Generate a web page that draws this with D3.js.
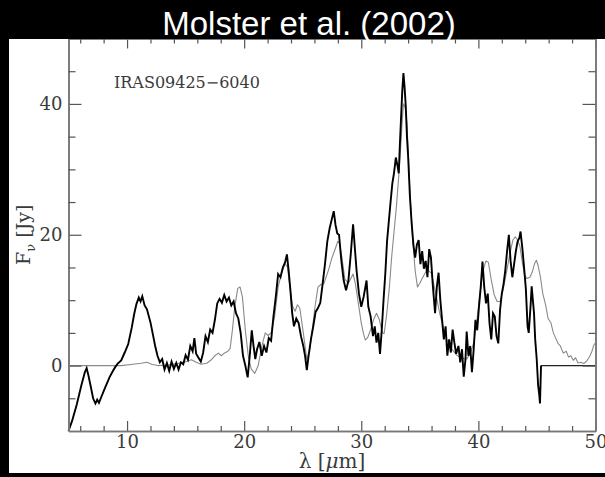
<!DOCTYPE html>
<html>
<head>
<meta charset="utf-8">
<script src="https://cdn.jsdelivr.net/npm/d3@7"></script>
<style>
  html, body { margin: 0; padding: 0; background: #000; }
  svg { display: block; }
  .tick line { stroke: #555; stroke-width: 1.2; }
  .axis .domain { stroke: #777; stroke-width: 1.6; }
  .axis text { font-family: "DejaVu Serif", serif; font-size: 18px; fill: #3a3a3a; }
  .obs { fill: none; stroke: #000; stroke-width: 1.9; stroke-linejoin: miter; }
  .model { fill: none; stroke: #8a8a8a; stroke-width: 1.1; stroke-linejoin: round; }
  .label { font-family: "DejaVu Serif", serif; fill: #3a3a3a; }
</style>
</head>
<body>
<div id="chart"></div>
<script>
// ISO spectrum of IRAS09425-6040: [lambda (um), F_nu (Jy)]
const observed = [
  [5.0,-10],[5.3,-8.5],[5.7,-6],[6.1,-3],[6.4,-1],[6.55,-0.4],[6.7,-1.5],[6.9,-3.2],[7.1,-5],
  [7.3,-5.8],[7.45,-5.2],[7.6,-5.7],[7.8,-4.8],[8.1,-3.5],[8.5,-1.8],[8.8,-0.8],[9.0,-0.2],
  [9.2,0.3],[9.5,0.8],[9.8,2],[10.1,3.3],[10.4,5.8],[10.6,7.8],[10.8,9.4],[11.0,10.4],
  [11.15,9.8],[11.3,10.6],[11.5,9.2],[11.7,8.6],[12.0,6.6],[12.2,4.8],[12.4,3],[12.6,1.5],
  [12.8,0.5],[13.0,1],[13.2,-0.6],[13.4,0.4],[13.6,-0.8],[13.8,0.6],[14.0,-0.5],[14.2,0.4],
  [14.4,-0.6],[14.6,0.5],[14.8,0.2],[15.0,1.6],[15.2,0.9],[15.4,3],[15.6,2.2],[15.75,4.2],
  [15.9,1.8],[16.1,1.2],[16.3,0.6],[16.5,2],[16.7,4.5],[16.9,3.6],[17.1,5.5],[17.3,5],
  [17.5,7],[17.7,9.5],[17.9,10.2],[18.1,9.6],[18.3,10.8],[18.5,9.8],[18.7,10.4],[18.9,9.2],
  [19.1,9.8],[19.3,8],[19.5,7.2],[19.7,5],[19.9,1.5],[20.1,0],[20.3,-1.8],[20.5,2],
  [20.65,5.4],[20.8,3],[20.95,1],[21.1,2.5],[21.3,3.6],[21.5,1.5],[21.7,3],[21.9,2],
  [22.1,4.2],[22.3,3.8],[22.5,7.5],[22.7,10.5],[22.9,14],[23.1,13.5],[23.3,15],[23.5,15.8],
  [23.65,17],[23.8,14.5],[23.95,11.5],[24.1,8],[24.25,6],[24.45,7.2],[24.65,6.5],[24.85,4.5],
  [25.05,3],[25.2,1.5],[25.35,-0.7],[25.5,1.5],[25.7,4],[25.9,6],[26.1,8.2],[26.3,8.8],
  [26.5,9.6],[26.7,12.5],[26.9,15.5],[27.1,19],[27.3,21],[27.5,22.5],[27.65,23.6],[27.8,21.5],
  [27.95,20.2],[28.1,20],[28.3,16],[28.5,13],[28.7,11.5],[28.9,13],[29.1,17],[29.3,21.6],
  [29.45,18],[29.6,14.5],[29.8,11],[30.0,9],[30.2,10.5],[30.45,13],[30.6,9],[30.8,7.5],
  [31.0,4.5],[31.15,6],[31.3,3.5],[31.45,5],[31.6,1.8],[31.75,5.5],[31.9,10],[32.05,14],
  [32.2,19],[32.35,22],[32.5,25],[32.65,27.8],[32.8,29.5],[32.95,31.8],[33.1,30.5],[33.2,29.4],
  [33.3,34],[33.4,38],[33.5,42],[33.6,44.7],[33.7,42.5],[33.8,39.6],[33.9,35],[34.0,32],
  [34.15,26],[34.3,21.8],[34.45,18.5],[34.6,16.5],[34.75,18.5],[34.9,19.2],[35.05,15.5],
  [35.2,17.5],[35.35,14.8],[35.5,16],[35.65,13.5],[35.8,17.8],[35.95,16.5],[36.1,12.5],
  [36.3,8],[36.45,12],[36.6,14.2],[36.75,10],[36.9,7],[37.05,4],[37.2,6],[37.35,1.5],
  [37.5,4],[37.65,2],[37.8,5.5],[37.95,3.5],[38.1,1.8],[38.3,3],[38.45,0.5],[38.6,2.5],
  [38.75,-1.7],[38.9,1],[39.0,5.2],[39.15,1.5],[39.3,3],[39.45,-1],[39.6,2.5],[39.75,7],
  [39.9,5.4],[40.05,9],[40.2,12],[40.35,15.9],[40.5,12],[40.65,9.5],[40.8,11],[40.95,6.5],
  [41.1,4],[41.25,8],[41.4,7.5],[41.55,4.5],[41.7,3.4],[41.85,8.5],[42.0,11],[42.15,12.5],
  [42.3,14.6],[42.45,17.5],[42.6,20],[42.75,16],[42.9,13.5],[43.05,15.5],[43.2,17.5],
  [43.35,19],[43.5,19.5],[43.6,20.5],[43.75,18],[43.9,15],[44.05,11.8],[44.2,6],[44.3,5],
  [44.45,9],[44.55,12.1],[44.65,10],[44.75,8],[44.85,4],[44.98,1],[45.1,-3],[45.2,-4.5],
  [45.26,-5.8],[45.35,0]
];
// flat zero continuation of the observed spectrum beyond its end
const observedTail = [[45.35,0],[50,0]];

// model fit (thin grey curve)
const model = [
  [5,0],[9.5,0],[10.5,0.2],[11.2,0.35],[11.7,0.5],[12.1,0.2],[12.6,0],[13.5,0.1],[14.3,0.3],
  [15.0,0.6],[15.5,0.9],[15.9,0.5],[16.3,0.2],[16.8,0.35],[17.2,0.9],[17.5,1.5],[17.8,1.9],
  [18.05,1.5],[18.3,1.9],[18.6,2.2],[18.8,2.6],[19.0,5.5],[19.2,9],[19.45,11.8],[19.65,12],
  [19.85,10.5],[20.1,5.4],[20.35,1.5],[20.6,-0.5],[20.9,-1.2],[21.2,0],[21.5,2.9],[21.8,5],
  [22.05,4.6],[22.3,5],[22.6,7.5],[22.9,12],[23.2,14.2],[23.5,15.6],[23.7,15],[23.9,12],
  [24.15,9],[24.35,8.3],[24.55,9.3],[24.75,8.8],[25.05,5],[25.35,0.9],[25.6,2.4],[25.85,6],
  [26.05,9],[26.3,12],[26.55,12.4],[26.8,12.5],[27.2,14.6],[27.5,16.5],[27.75,17.7],[28.0,19],
  [28.15,18.7],[28.35,16.5],[28.6,13.2],[28.9,12.6],[29.3,14],[29.5,12.5],[29.75,9.5],
  [30.0,6.5],[30.2,4.8],[30.35,3.9],[30.55,4.3],[30.8,5.5],[31.05,7],[31.3,8],[31.55,7],
  [31.8,5],[31.95,4.9],[32.15,7.5],[32.4,12],[32.6,16.7],[32.8,20.5],[33.0,24.3],[33.2,29],
  [33.35,33],[33.5,37.5],[33.6,40],[33.75,39.5],[33.9,37],[34.05,31],[34.2,25],[34.4,19],
  [34.6,14.5],[34.8,12],[35.0,12.6],[35.2,13.3],[35.5,14.3],[35.7,14.6],[36.0,14.1],
  [36.3,11.5],[36.7,8],[37.0,5.8],[37.3,4],[37.7,2.6],[38.15,1.6],[38.6,1.1],[39.0,1.0],
  [39.3,1.8],[39.6,3.5],[39.85,6.5],[40.1,10.5],[40.4,14.6],[40.65,16],[40.85,15.8],
  [41.1,13.1],[41.35,10.8],[41.6,9.8],[41.85,9.8],[42.1,11.5],[42.35,13.8],[42.7,17.2],
  [42.95,19.2],[43.15,19.7],[43.35,19.2],[43.55,18.2],[43.75,15.8],[43.95,13.8],[44.15,13.3],
  [44.4,13.5],[44.6,14.3],[44.8,15.6],[44.95,16.1],[45.1,15.3],[45.3,13.5],[45.5,11],
  [45.75,9.2],[45.95,7.2],[46.2,6.5],[46.4,5],[46.6,4.2],[46.8,3.4],[47.0,3],[47.25,1.9],
  [47.5,2.2],[47.7,1.3],[47.9,1.5],[48.1,0.8],[48.3,1.2],[48.5,0.4],[48.75,0.5],[49.0,0.3],
  [49.25,0.7],[49.5,1.4],[49.7,2.2],[49.85,3.1],[50,3.5]
];

const xMajor = [10, 20, 30, 40, 50];
const xMinor = [6, 8, 12, 14, 16, 18, 22, 24, 26, 28, 32, 34, 36, 38, 42, 44, 46, 48];
const yMajor = [0, 20, 40];
const yMinor = [-5, 5, 10, 15, 25, 30, 35, 45];

const W = 605, H = 477;
const margin = { top: 38.5, right: 9.5, bottom: 46, left: 68.5 };
const width = W - margin.left - margin.right;
const height = H - margin.top - margin.bottom;

const root = d3.select("#chart").append("svg")
    .attr("width", W)
    .attr("height", H);

// white paper behind the plot
root.append("rect")
    .attr("x", 9).attr("y", 39)
    .attr("width", W - 9).attr("height", 434)
    .attr("fill", "#fff");

const svg = root.append("g")
    .attr("transform", `translate(${margin.left},${margin.top})`);

const x = d3.scaleLinear().domain([5, 50]).range([0, width]);
const y = d3.scaleLinear().domain([-10, 50]).range([height, 0]);

const line = d3.line()
    .x(d => x(d[0]))
    .y(d => y(d[1]));

svg.append("path").datum(model).attr("class", "model").attr("d", line);
svg.append("path").datum(observed).attr("class", "obs").attr("d", line);
svg.append("path").datum(observedTail)
    .attr("fill", "none").attr("stroke", "#222").attr("stroke-width", 1.1)
    .attr("d", line);

// ---- axes, ticks pointing inwards on all four sides ----
const nofmt = () => "";

svg.append("g").attr("class", "axis")
    .attr("transform", `translate(0,${height})`)
    .call(d3.axisBottom(x).tickValues(xMajor).tickSize(-10).tickSizeOuter(0).tickPadding(4));
svg.append("g").attr("class", "axis")
    .attr("transform", `translate(0,${height})`)
    .call(d3.axisBottom(x).tickValues(xMinor).tickSize(-5).tickSizeOuter(0).tickFormat(nofmt));

svg.append("g").attr("class", "axis")
    .call(d3.axisTop(x).tickValues(xMajor).tickSize(-10).tickSizeOuter(0).tickFormat(nofmt));
svg.append("g").attr("class", "axis")
    .call(d3.axisTop(x).tickValues(xMinor).tickSize(-5).tickSizeOuter(0).tickFormat(nofmt));

svg.append("g").attr("class", "axis")
    .call(d3.axisLeft(y).tickValues(yMajor).tickSize(-13).tickSizeOuter(0).tickPadding(6));
svg.append("g").attr("class", "axis")
    .call(d3.axisLeft(y).tickValues(yMinor).tickSize(-7).tickSizeOuter(0).tickFormat(nofmt));

svg.append("g").attr("class", "axis")
    .attr("transform", `translate(${width},0)`)
    .call(d3.axisRight(y).tickValues(yMajor).tickSize(-13).tickSizeOuter(0).tickFormat(nofmt));
svg.append("g").attr("class", "axis")
    .attr("transform", `translate(${width},0)`)
    .call(d3.axisRight(y).tickValues(yMinor).tickSize(-7).tickSizeOuter(0).tickFormat(nofmt));

// axis titles
const xt = svg.append("text")
    .attr("class", "label")
    .attr("x", width / 2)
    .attr("y", height + 37)
    .attr("text-anchor", "middle")
    .style("font-size", "20px");
xt.append("tspan").text("λ [");
xt.append("tspan").style("font-style", "italic").text("μ");
xt.append("tspan").text("m]");

const yt = svg.append("text")
    .attr("class", "label")
    .attr("transform", `translate(${30 - margin.left},${height / 2}) rotate(-90)`)
    .attr("text-anchor", "middle")
    .style("font-size", "19px");
yt.append("tspan").text("F");
yt.append("tspan").attr("dy", 5).style("font-size", "13px").text("ν");
yt.append("tspan").attr("dy", -5).text(" [Jy]");

// object name
svg.append("text")
    .attr("class", "label")
    .attr("x", 114 - margin.left)
    .attr("y", 88 - margin.top)
    .style("font-size", "16px")
    .text("IRAS09425−6040");

// title band on top
root.append("rect")
    .attr("width", W).attr("height", 39)
    .attr("fill", "#000");
root.append("text")
    .attr("x", 309)
    .attr("y", 35)
    .attr("text-anchor", "middle")
    .style("font-family", "'Liberation Sans', Arial, sans-serif")
    .style("font-size", "33px")
    .style("fill", "#fff")
    .text("Molster et al. (2002)");
</script>
</body>
</html>
